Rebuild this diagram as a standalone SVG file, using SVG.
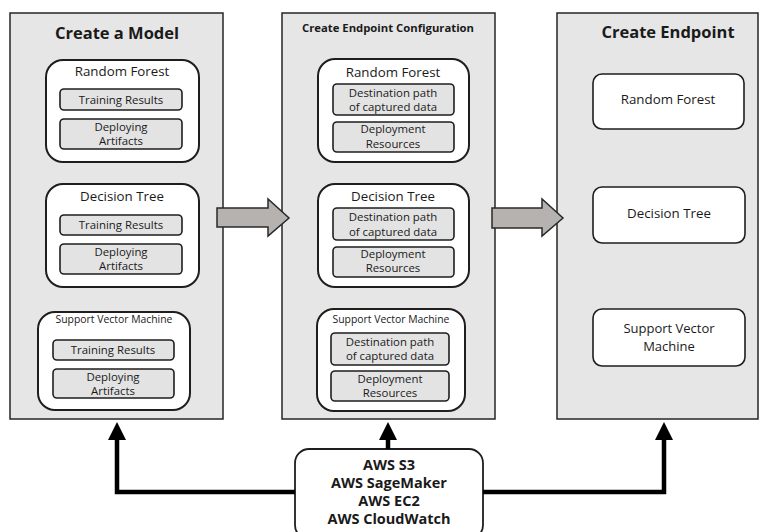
<svg xmlns="http://www.w3.org/2000/svg" width="759" height="532" viewBox="0 0 759 532">
<defs>
<style>
.panel{fill:#e6e6e6;stroke:#262626;stroke-width:1.5}
.grp{fill:#ffffff;stroke:#1e1e1e;stroke-width:2}
.item{fill:#e3e3e3;stroke:#1e1e1e;stroke-width:1.6}
.ep{fill:#ffffff;stroke:#1e1e1e;stroke-width:1.6}
.t{font-family:"Open Sans","DejaVu Sans",sans-serif;fill:#1a1a1a;text-anchor:middle}
.h{font-weight:bold;font-size:16.5px}
.h2{font-weight:bold;font-size:11.3px}
.g{font-size:13.3px}
.gs{font-size:10.4px}
.i{font-size:11.4px}
.aws{font-weight:bold;font-size:14.5px}
.big{fill:#b5b2af;stroke:#2a2a2a;stroke-width:1.5}
.conn{fill:none;stroke:#000;stroke-width:4.5;stroke-linejoin:miter}
</style>
<marker id="ah" markerWidth="4" markerHeight="4" refX="2" refY="2" orient="auto" markerUnits="strokeWidth" viewBox="0 0 4 4">
<path d="M0,0 L4,2 L0,4 z" fill="#000"/>
</marker>
</defs>

<g id="panel-model">
<rect class="panel" x="10" y="13" width="213" height="406"/>
<text class="t h" x="117" y="39">Create a Model</text>
<g id="model-rf">
<rect class="grp" x="46" y="60" width="153" height="102" rx="17"/>
<text class="t g" x="122" y="76">Random Forest</text>
<rect class="item" x="60" y="89" width="122" height="21" rx="4"/>
<text class="t i" x="121" y="104">Training Results</text>
<rect class="item" x="60" y="119" width="122" height="30" rx="4"/>
<text class="t i" x="121" y="131">Deploying</text>
<text class="t i" x="121" y="145">Artifacts</text>
</g>
<g id="model-dt">
<rect class="grp" x="46" y="184" width="153" height="103" rx="17"/>
<text class="t g" x="122" y="201">Decision Tree</text>
<rect class="item" x="60" y="215" width="122" height="20" rx="4"/>
<text class="t i" x="121" y="229">Training Results</text>
<rect class="item" x="60" y="244" width="122" height="30" rx="4"/>
<text class="t i" x="121" y="256">Deploying</text>
<text class="t i" x="121" y="270">Artifacts</text>
</g>
<g id="model-svm">
<rect class="grp" x="38" y="312" width="152" height="98" rx="17"/>
<text class="t gs" x="114" y="323">Support Vector Machine</text>
<rect class="item" x="53" y="340" width="121" height="20" rx="4"/>
<text class="t i" x="113" y="354">Training Results</text>
<rect class="item" x="53" y="369" width="121" height="29" rx="4"/>
<text class="t i" x="113" y="381">Deploying</text>
<text class="t i" x="113" y="395">Artifacts</text>
</g>
</g>

<g id="panel-config">
<rect class="panel" x="282" y="13" width="213" height="406"/>
<text class="t h2" x="388" y="32">Create Endpoint Configuration</text>
<g id="config-rf">
<rect class="grp" x="318" y="59" width="151" height="103" rx="17"/>
<text class="t g" x="393" y="77">Random Forest</text>
<rect class="item" x="333" y="84" width="121" height="31" rx="4"/>
<text class="t i" x="393" y="97">Destination path</text>
<text class="t i" x="393" y="111">of captured data</text>
<rect class="item" x="333" y="122" width="121" height="30" rx="4"/>
<text class="t i" x="393" y="133">Deployment</text>
<text class="t i" x="393" y="148">Resources</text>
</g>
<g id="config-dt">
<rect class="grp" x="318" y="184" width="151" height="103" rx="17"/>
<text class="t g" x="393" y="201">Decision Tree</text>
<rect class="item" x="333" y="208" width="121" height="32" rx="4"/>
<text class="t i" x="393" y="221">Destination path</text>
<text class="t i" x="393" y="236">of captured data</text>
<rect class="item" x="333" y="247" width="121" height="30" rx="4"/>
<text class="t i" x="393" y="258">Deployment</text>
<text class="t i" x="393" y="272">Resources</text>
</g>
<g id="config-svm">
<rect class="grp" x="317" y="309" width="148" height="102" rx="17"/>
<text class="t gs" x="391" y="323">Support Vector Machine</text>
<rect class="item" x="331" y="333" width="118" height="32" rx="4"/>
<text class="t i" x="390" y="346">Destination path</text>
<text class="t i" x="390" y="360">of captured data</text>
<rect class="item" x="331" y="371" width="118" height="30" rx="4"/>
<text class="t i" x="390" y="383">Deployment</text>
<text class="t i" x="390" y="397">Resources</text>
</g>
</g>

<g id="panel-endpoint">
<rect class="panel" x="557" y="13" width="201" height="406"/>
<text class="t h" x="668" y="38">Create Endpoint</text>
<g id="endpoint-rf">
<rect class="ep" x="593" y="74" width="151" height="55" rx="9"/>
<text class="t g" x="668" y="104">Random Forest</text>
</g>
<g id="endpoint-dt">
<rect class="ep" x="593" y="187" width="152" height="56" rx="9"/>
<text class="t g" x="669" y="218">Decision Tree</text>
</g>
<g id="endpoint-svm">
<rect class="ep" x="593" y="309" width="152" height="57" rx="9"/>
<text class="t g" x="669" y="333" style="font-size:13px">Support Vector</text>
<text class="t g" x="669" y="351" style="font-size:13px">Machine</text>
</g>
</g>

<g id="aws">
<rect class="ep" x="295" y="449" width="188" height="90" rx="14" style="stroke-width:1.8"/>
<text class="t aws" x="389" y="470">AWS S3</text>
<text class="t aws" x="389" y="488">AWS SageMaker</text>
<text class="t aws" x="389" y="506">AWS EC2</text>
<text class="t aws" x="389" y="524">AWS CloudWatch</text>
</g>

<g id="connectors">
<path class="big" d="M217,208 L268,208 L268,199 L289,218 L268,236 L268,227 L217,227 Z"/>
<path class="big" d="M492,208 L542,208 L542,199 L563,218 L542,236 L542,228 L492,228 Z"/>
<path class="conn" d="M295,492 L117,492 L117,431" marker-end="url(#ah)"/>
<path class="conn" d="M388,449 L388,431" marker-end="url(#ah)"/>
<path class="conn" d="M483,492 L664,492 L664,431" marker-end="url(#ah)"/>
</g>
</svg>
